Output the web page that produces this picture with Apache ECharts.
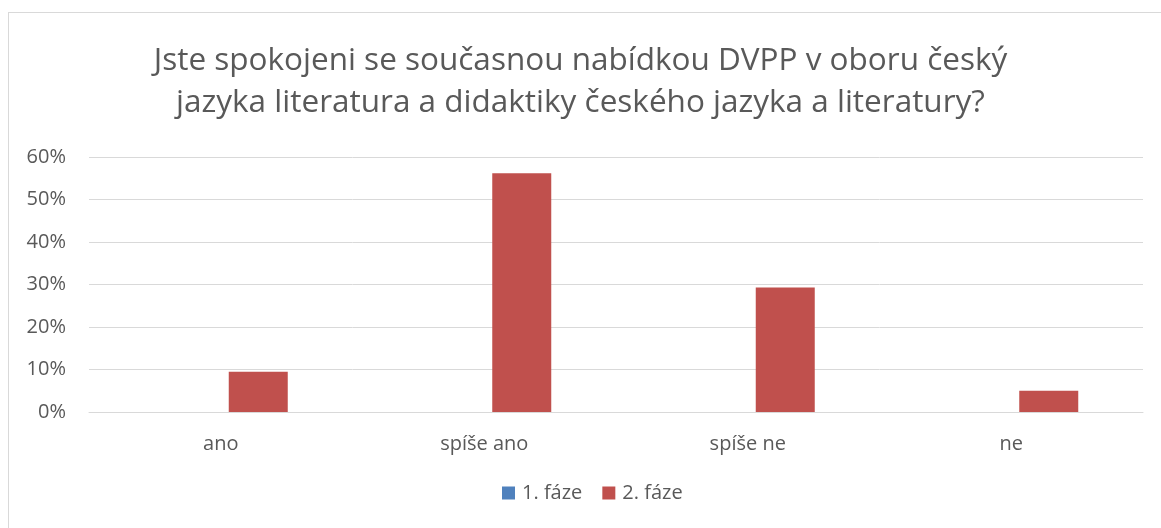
<!DOCTYPE html>
<html>
<head>
<meta charset="utf-8">
<script src="https://cdn.jsdelivr.net/npm/echarts@6/dist/echarts.min.js"></script>
<style>
  html, body { margin: 0; padding: 0; background: #fff; }
  .frame {
    position: absolute; left: 8px; top: 12px; width: 1200px; height: 600px;
    border: 1px solid #d9d9d9; box-sizing: border-box;
  }
  #chart { position: absolute; left: 0; top: 0; width: 1161px; height: 528px; }
</style>
</head>
<body>
<div class="frame"></div>
<div id="chart"></div>
<script>
// data
const categories = ['ano', 'spíše ano', 'spíše ne', 'ne']
const phase1 = [0, 0, 0, 0]
const phase2 = [0.095, 0.562, 0.293, 0.050]
const seriesNames = ['1. fáze', '2. fáze']
// empty slot so the bar pair sits a bit right of the category centre, as in the original
const spacer = [0, 0, 0, 0]

const font = '"Open Sans", "Noto Sans", sans-serif'
const chart = echarts.init(document.getElementById('chart'))

chart.setOption({
  animation: false,
  title: {
    text: 'Jste spokojeni se současnou nabídkou DVPP v oboru český\njazyka literatura a didaktiky českého jazyka a literatury?',
    left: 'center',
    top: 35,
    textStyle: {
      color: '#595959',
      fontFamily: font,
      fontWeight: 'normal',
      fontSize: 31.5,
      lineHeight: 42
    }
  },
  legend: {
    bottom: 20,
    left: 497,
    itemWidth: 13,
    itemHeight: 13,
    itemGap: 20,
    icon: 'rect',
    data: seriesNames,
    textStyle: { color: '#595959', fontFamily: font, fontSize: 20, padding: [0, 0, 0, 2] }
  },
  grid: { left: 89, right: 18, top: 157, bottom: 116 },
  xAxis: {
    type: 'category',
    data: categories,
    axisLine: { lineStyle: { color: '#d9d9d9' } },
    axisTick: { show: false },
    axisLabel: { color: '#595959', fontFamily: font, fontSize: 20, margin: 22 }
  },
  yAxis: {
    type: 'value',
    min: 0,
    max: 0.6,
    interval: 0.1,
    axisLine: { show: false },
    axisTick: { show: false },
    splitLine: { lineStyle: { color: '#d9d9d9' } },
    axisLabel: {
      color: '#595959', fontFamily: font, fontSize: 20, margin: 23,
      formatter: v => Math.round(v * 100) + '%'
    }
  },
  series: [
    {
      name: 'spacer', type: 'bar', data: spacer,
      barWidth: 16, barGap: '0%', silent: true,
      itemStyle: { color: 'rgba(0,0,0,0)' }
    },
    {
      name: seriesNames[0], type: 'bar', data: phase1,
      barWidth: 59, barGap: '0%',
      itemStyle: { color: '#4f81bd' }
    },
    {
      name: seriesNames[1], type: 'bar', data: phase2,
      barWidth: 59, barGap: '0%',
      itemStyle: { color: '#c0504d' }
    }
  ]
})
</script>
</body>
</html>
